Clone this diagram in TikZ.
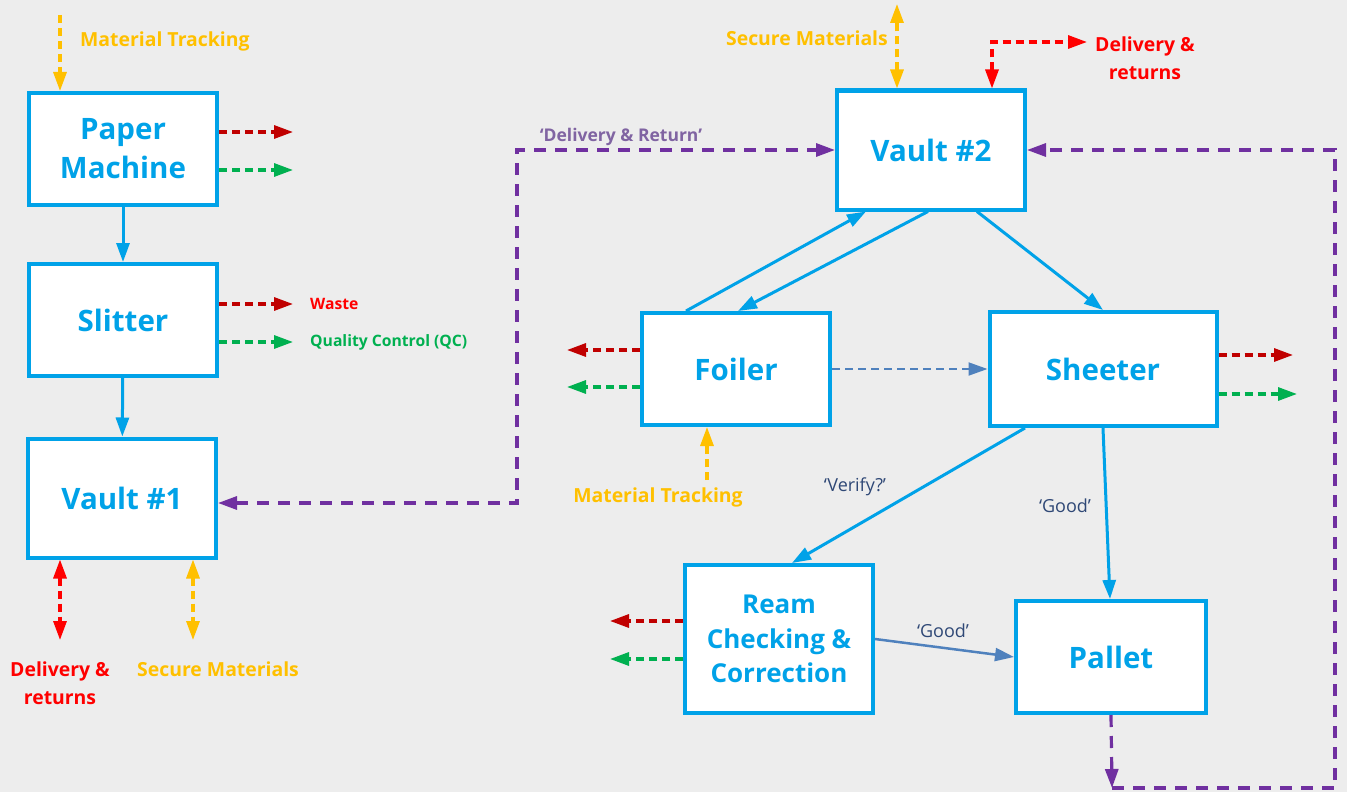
\documentclass[tikz,border=0pt]{standalone}
\usepackage{fontspec}
\setmainfont{Open Sans}
\usetikzlibrary{arrows.meta,positioning}
\definecolor{boxblue}{RGB}{0,162,232}
\definecolor{bggrey}{RGB}{237,237,237}
\definecolor{brightred}{RGB}{255,0,0}
\definecolor{darkred}{RGB}{192,0,0}
\definecolor{qcgreen}{RGB}{0,176,80}
\definecolor{trackyellow}{RGB}{255,192,0}
\definecolor{returnpurple}{RGB}{112,48,160}
\definecolor{labelpurple}{RGB}{128,100,162}
\definecolor{steelblue}{RGB}{79,129,189}
\definecolor{labelnavy}{RGB}{47,72,118}
\tikzstyle{stage}=[draw=boxblue, line width=4pt, fill=white, text=boxblue, align=center, inner sep=0pt, minimum width=188pt, minimum height=112pt, font=\bfseries\fontsize{29.5}{39}\selectfont]
\tikzstyle{connect}=[->, draw=boxblue, line width=3pt]
\tikzstyle{good}=[->, draw=steelblue, line width=2.5pt]
\tikzstyle{waste}=[->, draw=darkred, line width=3.2pt, dash pattern=on 8pt off 5pt]
\tikzstyle{qc}=[->, draw=qcgreen, line width=3.2pt, dash pattern=on 8pt off 5pt]
\tikzstyle{tracking}=[draw=trackyellow, line width=3.2pt, dash pattern=on 8pt off 5pt]
\tikzstyle{delivery}=[draw=brightred, line width=3.2pt, dash pattern=on 8pt off 5pt]
\tikzstyle{return}=[draw=returnpurple, line width=3.2pt, dash pattern=on 12pt off 9pt]
\tikzstyle{tag}=[inner sep=0pt, align=center, font=\bfseries\fontsize{19.4}{28}\selectfont]
\tikzstyle{small tag}=[inner sep=0pt, font=\bfseries\fontsize{15.7}{18}\selectfont]
\tikzstyle{edge tag}=[inner sep=0pt, text=labelnavy, font=\fontsize{18}{22}\selectfont]
\newcommand{\vaultno}[1]{Vault \##1}

\begin{document}
\begin{tikzpicture}[x=1pt, y=-1pt, >={Triangle[length=19pt,width=13pt]}]
    \useasboundingbox[fill=bggrey] (0,0) rectangle (1347,792);

    % left column
    \node[stage] (paper) at (123,149) {Paper\\Machine};
    \node[stage] (slitter) at (123,320) {Slitter};
    \node[stage, minimum height=119pt] (vault1) at (122,498) {\vaultno{1}};

    % right part
    \node[stage, minimum height=119pt] (vault2) at (931,150) {\vaultno{2}};
    \node[stage] (foiler) at (736,369) {Foiler};
    \node[stage, minimum width=227pt, minimum height=114pt] (sheeter) at (1103,369) {Sheeter};
    \node[stage, minimum height=148pt, font=\bfseries\fontsize{26}{34.5}\selectfont] (ream) at (779,639) {Ream\\Checking \&\\Correction};
    \node[stage, minimum width=190pt] (pallet) at (1111,657) {Pallet};

    % free ends of the side arrows
    \coordinate (pmtrack) at (60,15);
    \coordinate (pmwaste) at (293,132);
    \coordinate (pmqc) at (293,170);
    \coordinate (slwaste) at (293,304);
    \coordinate (slqc) at (293,342);
    \coordinate (v1deliv) at (60,640);
    \coordinate (v1secure) at (193,640);
    \coordinate (v1turn) at (517,150);
    \coordinate (v2secure) at (897,4);
    \coordinate (v2deliv) at (1087,42);
    \coordinate (v2turn) at (1335,150);
    \coordinate (fowaste) at (567,350);
    \coordinate (foqc) at (567,387);
    \coordinate (fotrack) at (707,480);
    \coordinate (shwaste) at (1293,355);
    \coordinate (shqc) at (1297,394);
    \coordinate (rcwaste) at (610,621);
    \coordinate (rcqc) at (610,659);
    \coordinate (corner) at (1112,788);

    % labels
    \node[tag, text=trackyellow, anchor=west] (pmtracklbl) at (80,41) {Material Tracking};
    \node[small tag, text=brightred, anchor=west, right=17pt of slwaste] (wastelbl) {Waste};
    \node[small tag, text=qcgreen, anchor=west, right=17pt of slqc] (qclbl) {Quality Control (QC)};
    \node[tag, text=brightred] (v1delivlbl) at (60,683) {Delivery \&\\returns};
    \node[tag, text=trackyellow, anchor=west] (v1securelbl) at (137,669) {Secure Materials};
    \node[tag, text=trackyellow, anchor=east] (v2securelbl) at (888,38) {Secure Materials};
    \node[tag, text=brightred] (v2delivlbl) at (1145,58) {Delivery \&\\returns};
    \node[tag, text=trackyellow] (fotracklbl) at (658,497) {Material Tracking};
    \node[tag, text=labelpurple, font=\bfseries\fontsize{17.5}{21}\selectfont] (returnlbl) at (621,137) {`Delivery \& Return'};
    \node[edge tag] (verifylbl) at (855,487) {`Verify?'};
    \node[edge tag] (goodlbl) at (1065,506) {`Good'};
    \node[edge tag] (goodlbl2) at (943,631) {`Good'};

    % main flow
    \path
        (paper) edge [connect] (slitter)
        (slitter) edge [connect] (vault1)
        ([xshift=-50pt]foiler.north) edge [connect] ([xshift=-65pt]vault2.south)
        ([xshift=-3pt]vault2.south) edge [connect] ([xshift=2pt]foiler.north)
        ([xshift=46pt]vault2.south) edge [connect] (sheeter.north)
        ([xshift=-78pt]sheeter.south) edge [connect] ([xshift=13pt]ream.north)
        (sheeter.south) edge [connect] ([xshift=-1pt]pallet.north)
        (ream.east) edge [good] (pallet.west)
        (foiler.east) edge [->, draw=steelblue, line width=2pt, dash pattern=on 8pt off 5pt] (sheeter.west)
        ;

    % waste and quality control
    \path
        ([yshift=17pt]paper.east) edge [waste] (pmwaste)
        ([yshift=-21pt]paper.east) edge [qc] (pmqc)
        ([yshift=16pt]slitter.east) edge [waste] (slwaste)
        ([yshift=-22pt]slitter.east) edge [qc] (slqc)
        ([yshift=19pt]foiler.west) edge [waste] (fowaste)
        ([yshift=-18pt]foiler.west) edge [qc] (foqc)
        ([yshift=14pt]sheeter.east) edge [waste] (shwaste)
        ([yshift=-25pt]sheeter.east) edge [qc] (shqc)
        ([yshift=18pt]ream.west) edge [waste] (rcwaste)
        ([yshift=-20pt]ream.west) edge [qc] (rcqc)
        ;

    % tracking, secure materials and deliveries
    \draw[tracking, ->] (pmtrack) -- (paper.north -| pmtrack);
    \draw[tracking, ->] (fotrack) -- (foiler.south -| fotrack);
    \draw[tracking, <->] (vault1.south -| v1secure) -- (v1secure);
    \draw[tracking, <->] (vault2.north -| v2secure) -- (v2secure);
    \draw[delivery, <->] (vault1.south -| v1deliv) -- (v1deliv);
    \draw[delivery, <->] ([xshift=61pt]vault2.north) |- (v2deliv);

    % returns between the vaults
    \draw[return, <->] ([yshift=-5pt]vault1.east) -| (v1turn) -- (vault2.west);
    \draw[return, ->] (pallet.south) -- (corner);
    \draw[return, ->] (corner) -| (v2turn) -- (vault2.east);
\end{tikzpicture}
\end{document}
